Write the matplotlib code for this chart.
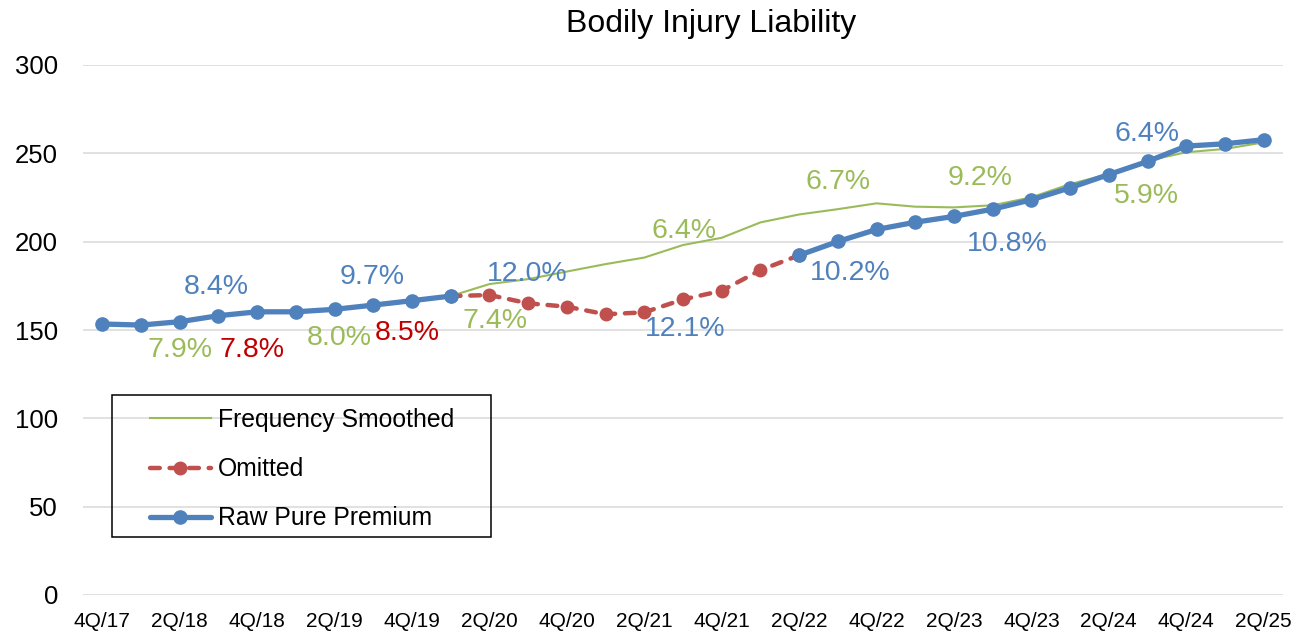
import numpy as np
import matplotlib
matplotlib.use("Agg")
import matplotlib.pyplot as plt
from matplotlib.patches import Rectangle

plt.rcParams['font.family'] = ['Liberation Sans', 'DejaVu Sans']

quarters = ['4Q/17', '1Q/18', '2Q/18', '3Q/18', '4Q/18', '1Q/19', '2Q/19', '3Q/19',
            '4Q/19', '1Q/20', '2Q/20', '3Q/20', '4Q/20', '1Q/21', '2Q/21', '3Q/21',
            '4Q/21', '1Q/22', '2Q/22', '3Q/22', '4Q/22', '1Q/23', '2Q/23', '3Q/23',
            '4Q/23', '1Q/24', '2Q/24', '3Q/24', '4Q/24', '1Q/25', '2Q/25']

nan = np.nan
freq_smoothed = [153.4, 152.8, 154.7, 158.1, 160.3, 160.3, 161.7, 164.1, 166.6, 169.2,
                 176.0, 178.8, 183.1, 187.3, 191.0, 198.1, 202.2, 210.9, 215.4, 218.4,
                 221.7, 219.8, 219.4, 220.6, 225.1, 232.6, 238.3, 245.8, 250.6, 252.5, 256.2]
omitted = [nan, nan, nan, nan, nan, nan, nan, nan, nan, 169.2,
           169.8, 165.1, 163.2, 158.9, 160.0, 167.3, 172.2, 183.9, 192.3, nan,
           nan, nan, nan, nan, nan, nan, nan, nan, nan, nan, nan]
raw_pp = [153.4, 152.8, 154.7, 158.1, 160.3, 160.3, 161.7, 164.1, 166.6, 169.2,
          nan, nan, nan, nan, nan, nan, nan, nan, 192.3, 200.1,
          206.9, 211.0, 214.3, 218.4, 223.7, 230.5, 238.0, 245.4, 254.1, 255.4, 257.7]

# percentage call-outs: text, x (quarter index), y (value), colour key
note_text = ['8.4%', '9.7%', '7.9%', '7.8%', '8.0%', '8.5%', '12.0%', '7.4%',
             '6.4%', '12.1%', '6.7%', '10.2%', '9.2%', '10.8%', '6.4%', '5.9%']
note_x = [2.95, 6.96, 2.0, 3.86, 6.11, 7.87, 10.98, 10.14,
          15.02, 15.05, 19.0, 19.31, 22.67, 23.37, 26.98, 26.98]
note_y = [176.0, 181.7, 140.1, 140.1, 147.2, 150.0, 183.0, 156.8,
          207.7, 152.3, 235.5, 184.0, 237.7, 200.4, 262.6, 227.5]
note_col = ['b', 'b', 'g', 'r', 'g', 'r', 'b', 'g',
            'g', 'b', 'g', 'b', 'g', 'b', 'b', 'g']

blue = '#4F81BD'
green = '#9BBB59'
red = '#C0504D'
colors = {'b': blue, 'g': green, 'r': '#C00000'}

fig = plt.figure(figsize=(13.14, 6.32), dpi=100)
ax = fig.add_axes([83/1314, 1-595/632, 1200/1314, 530/632])

x = np.arange(len(quarters))
l1, = ax.plot(x, freq_smoothed, color=green, lw=1.5, label='Frequency Smoothed', zorder=2)
l2, = ax.plot(x, omitted, color=red, lw=3.2, dashes=(2.2, 2.2), dash_capstyle='round',
              marker='o', ms=9, label='Omitted', zorder=3)
l3, = ax.plot(x, raw_pp, color=blue, lw=3.8, marker='o', ms=9.5,
              solid_capstyle='round', label='Raw Pure Premium', zorder=4)

for t, xx, yy, c in zip(note_text, note_x, note_y, note_col):
    ax.annotate(t, (xx, yy), xytext=(0, -2), textcoords='offset points',
                color=colors[c], fontsize=20.5, ha='center', va='center', zorder=5)

ax.set_xlim(-0.5, len(quarters) - 0.5)
ax.set_ylim(0, 300)
ax.set_yticks(range(0, 301, 50))
ax.set_xticks(x[::2])
ax.set_xticklabels(quarters[::2])
ax.tick_params(axis='y', length=0, labelsize=18.5, pad=18)
ax.tick_params(axis='x', length=0, labelsize=15, pad=12)
ax.grid(axis='y', color='#D9D9D9', lw=1.1)
ax.set_axisbelow(True)
for s in ax.spines.values():
    s.set_visible(False)

fig.text(711/1314, 1-24/632, 'Bodily Injury Liability', fontsize=23, ha='center', va='center')

fig.patches.append(Rectangle((112/1314, 1-537/632), 379/1314, 142/632,
                             transform=fig.transFigure, fill=False, ec='black', lw=1.1))
leg = fig.legend(handles=[l1, l2, l3], loc='upper left', bbox_to_anchor=(150/1314, 1-408/632),
                 frameon=False, fontsize=17.8, borderpad=0, borderaxespad=0,
                 handlelength=2.45, handletextpad=0.3, labelspacing=1.02)

fig.savefig('out.png', dpi=100)
